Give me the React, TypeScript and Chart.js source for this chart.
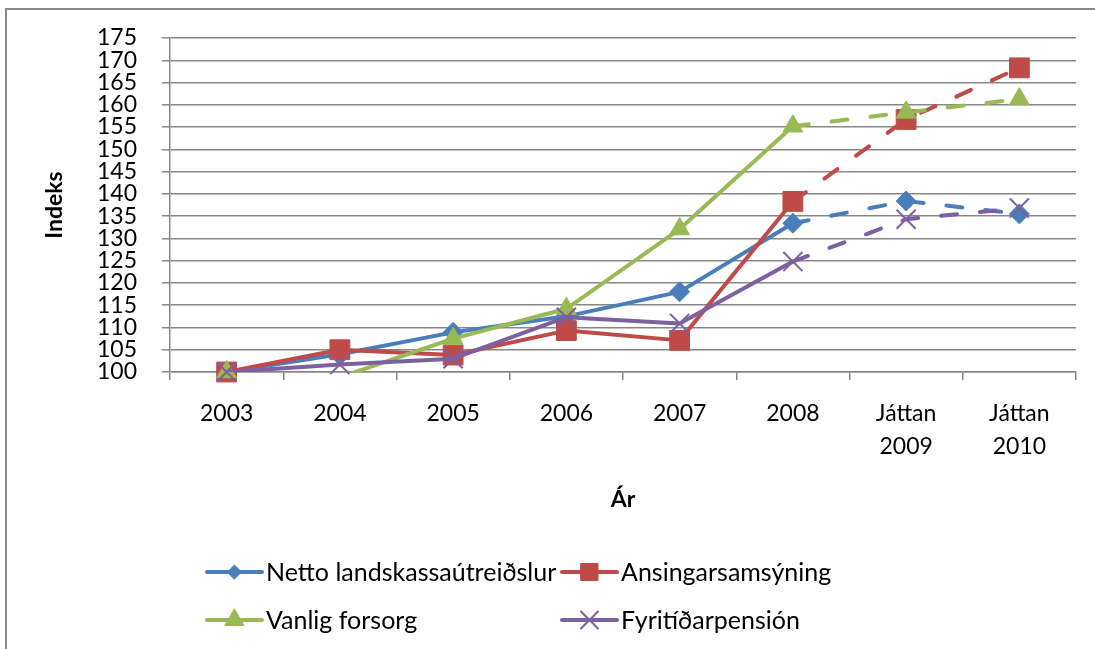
import React, { useEffect, useRef } from 'react';
import { Chart, registerables } from 'chart.js';
import { drawPoint } from 'chart.js/helpers';

Chart.register(...registerables);

// ---- Data ----
const categories: (string | string[])[] = ['2003', '2004', '2005', '2006', '2007', '2008', ['Játtan', '2009'], ['Játtan', '2010']];
const seriesNames = ['Netto landskassaútreiðslur', 'Ansingarsamsýning', 'Vanlig forsorg', 'Fyritíðarpensión'];
const nettoValues = [100, 104, 108.9, 112.5, 118, 133.4, 138.4, 135.5];
const ansingarValues = [100, 105, 103.8, 109.3, 107.1, 138.3, 156.7, 168.3];
const vanligValues = [100, 98.8, 107.5, 114.2, 132.1, 155.2, 158.3, 161.3];
const fyriValues = [100, 101.7, 103, 112.3, 110.9, 124.8, 134.3, 136.8];
const yMin = 100;
const yMax = 175;
const yStep = 5;
const forecastFrom = 5; // segments after index 5 (2008) are dashed
const xTitle = 'Ár';
const yTitle = 'Indeks';

// ---- Styles ----
const colors = ['#4A7EBB', '#BE4B48', '#98B954', '#7D60A0'];
const pointStyles = ['rectRot', 'rect', 'triangle', 'crossRot'];
const pointRadii = [10, 14, 11.5, 13.5];
const legendRadii = [7, 12, 11, 12];
const FONT = 'Lato, "Open Sans", sans-serif';
const GRID = '#878787';

const allValues = [nettoValues, ansingarValues, vanligValues, fyriValues];

const legendPlugin = {
  id: 'gridLegend',
  afterDraw(chart: any) {
    const ctx = chart.ctx as CanvasRenderingContext2D;
    ctx.save();
    seriesNames.forEach((name, i) => {
      const col = i % 2;
      const row = Math.floor(i / 2);
      const x0 = col === 0 ? 200 : 555;
      const y = row === 0 ? 562 : 610;
      ctx.strokeStyle = colors[i];
      ctx.lineWidth = 4;
      ctx.lineCap = 'round';
      ctx.setLineDash([]);
      ctx.beginPath();
      ctx.moveTo(x0, y);
      ctx.lineTo(x0 + 55, y);
      ctx.stroke();
      ctx.fillStyle = colors[i];
      ctx.strokeStyle = colors[i];
      const bw = pointStyles[i] === 'crossRot' ? 2 : 1;
      ctx.lineWidth = bw;
      drawPoint(ctx, { pointStyle: pointStyles[i], radius: legendRadii[i], borderWidth: bw, rotation: 0 } as any, x0 + 27.5, y);
      ctx.fillStyle = '#000';
      ctx.font = `25px ${FONT}`;
      ctx.textBaseline = 'middle';
      ctx.textAlign = 'left';
      ctx.fillText(name, x0 + 59, y + 1);
    });
    ctx.restore();
  },
};

export default function App() {
  const canvasRef = useRef<HTMLCanvasElement | null>(null);

  useEffect(() => {
    if (!canvasRef.current) return;
    const datasets: any[] = [];
    allValues.forEach((vals, i) => {
      const n = allValues.length;
      datasets.push({
        label: seriesNames[i],
        data: vals,
        borderColor: colors[i],
        backgroundColor: colors[i],
        borderWidth: 4,
        borderCapStyle: 'round',
        borderJoinStyle: 'round',
        pointRadius: 0,
        pointHoverRadius: 0,
        order: 2 * (n - i) + 1,
        segment: {
          borderDash: (c: any) => (c.p0DataIndex >= forecastFrom ? [16, 23] : undefined),
        },
      });
      datasets.push({
        label: seriesNames[i] + ' markers',
        data: vals,
        showLine: false,
        clip: false,
        borderColor: colors[i],
        backgroundColor: colors[i],
        pointStyle: pointStyles[i],
        pointRadius: (c: any) => (c.raw < yMin || c.raw > yMax ? 0 : pointRadii[i]),
        pointHoverRadius: 0,
        pointBorderWidth: pointStyles[i] === 'crossRot' ? 2 : 1,
        order: 2 * (n - i),
      });
    });

    const chart = new Chart(canvasRef.current, {
      type: 'line',
      data: { labels: categories as any, datasets },
      options: {
        responsive: false,
        animation: false,
        events: [],
        layout: { padding: { top: 28, right: 19, left: 0, bottom: 0 } },
        plugins: {
          legend: { display: false },
          tooltip: { enabled: false },
        },
        scales: {
          x: {
            type: 'category',
            offset: true,
            afterFit: (s: any) => { s.height = 277; s.paddingLeft = 0; s.paddingRight = 0; },
            grid: {
              offset: true,
              drawOnChartArea: false,
              drawTicks: true,
              tickLength: 8,
              color: GRID,
              lineWidth: 1.5,
            },
            border: { display: true, color: GRID, width: 1.5 },
            ticks: {
              autoSkip: false,
              maxRotation: 0,
              padding: 17,
              color: '#000',
              font: { family: FONT, size: 23, lineHeight: 1.435 },
            },
            title: {
              display: true,
              text: xTitle,
              color: '#000',
              font: { family: FONT, size: 23, weight: 'bold' },
              padding: { top: 136, bottom: 136 },
            },
          },
          y: {
            min: yMin,
            max: yMax,
            afterFit: (s: any) => { s.width = 163; s.paddingTop = 0; s.paddingBottom = 0; },
            grid: {
              drawTicks: true,
              tickLength: 8,
              color: GRID,
              lineWidth: 1.5,
            },
            border: { display: true, color: GRID, width: 1.5 },
            ticks: {
              stepSize: yStep,
              autoSkip: false,
              padding: 25,
              color: '#000',
              font: { family: FONT, size: 23 },
            },
            title: {
              display: true,
              text: yTitle,
              color: '#000',
              font: { family: FONT, size: 23, weight: 'bold' },
              padding: { top: 34, bottom: 34 },
            },
          },
        },
      },
      plugins: [legendPlugin],
    });

    let alive = true;
    if ((document as any).fonts && (document as any).fonts.ready) {
      (document as any).fonts.ready.then(() => { if (alive) chart.update(); });
    }
    return () => { alive = false; chart.destroy(); };
  }, []);

  return (
    <div style={{ position: 'fixed', left: 0, top: 0, width: 1095, height: 649, overflow: 'hidden', background: '#fff' }}>
      <div style={{ position: 'absolute', left: 5, top: 8, width: 1200, height: 800, borderLeft: '2px solid #8a8a8a', borderTop: '2px solid #8a8a8a' }}>
        <canvas ref={canvasRef} width={1088} height={639} style={{ position: 'absolute', left: 0, top: 0, display: 'block' }} />
      </div>
    </div>
  );
}
